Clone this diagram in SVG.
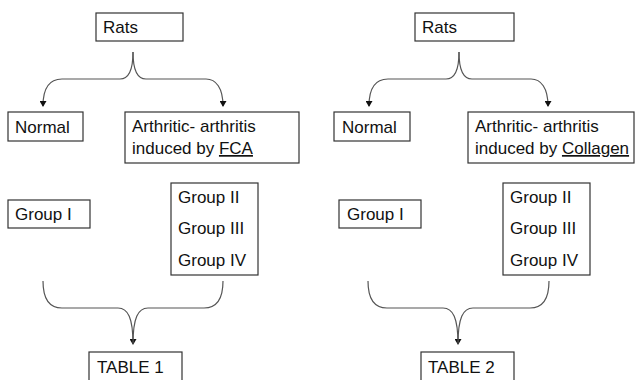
<svg xmlns="http://www.w3.org/2000/svg" width="635" height="380" viewBox="0 0 635 380">
<defs>
<style>
.box{fill:#fff;stroke:#333;stroke-width:1.2}
.t{font-family:"Liberation Sans",Arial,sans-serif;font-size:17px;fill:#111}
.c{fill:none;stroke:#555;stroke-width:1.2}
.u{text-decoration:underline}
</style>
<marker id="ah" markerWidth="6" markerHeight="7" refX="5" refY="3.5" orient="auto" markerUnits="userSpaceOnUse">
<path d="M0,0 L6,3.5 L0,7 Z" fill="#111"/>
</marker>
</defs>
<rect width="635" height="380" fill="#fff"/>
<g id="connectors">
<path class="c" d="M133,52 C133,70 128,79 120,79 L62,79 C50,79 43,88 43,106" marker-end="url(#ah)"/>
<path class="c" d="M133,52 C133,70 138,79 146,79 L206,79 C216,79 223,88 223,106" marker-end="url(#ah)"/>
<path class="c" d="M43,281 C43,300 50,308 62,308 L118,308 C128,308 133,318 133,344" marker-end="url(#ah)"/>
<path class="c" d="M223,281 C223,300 216,308 204,308 L148,308 C138,308 133,318 133,344"/>
<path class="c" d="M459,52 C459,70 454,79 446,79 L388,79 C376,79 369,88 369,106" marker-end="url(#ah)"/>
<path class="c" d="M459,52 C459,70 464,79 472,79 L531,79 C541,79 548,88 548,106" marker-end="url(#ah)"/>
<path class="c" d="M368,281 C368,300 375,308 387,308 L443,308 C453,308 458,318 458,344" marker-end="url(#ah)"/>
<path class="c" d="M549,281 C549,300 542,308 530,308 L473,308 C463,308 458,318 458,344"/>
</g>
<g id="rats1"><rect class="box" x="96" y="13" width="87" height="28"/><text class="t" x="103" y="33">Rats</text></g>
<g id="normal1"><rect class="box" x="8" y="112" width="75" height="29"/><text class="t" x="15" y="133">Normal</text></g>
<g id="arthritic1"><rect class="box" x="125" y="112" width="174" height="51"/><text class="t" x="132" y="132">Arthritic- arthritis</text><text class="t" x="132" y="154">induced by <tspan class="u">FCA</tspan></text></g>
<g id="group1a"><rect class="box" x="8" y="200" width="82" height="28"/><text class="t" x="15" y="220">Group I</text></g>
<g id="groups1"><rect class="box" x="171" y="183" width="87" height="92"/><text class="t" x="178" y="203">Group II</text><text class="t" x="178" y="234">Group III</text><text class="t" x="178" y="266">Group IV</text></g>
<g id="table1"><rect class="box" x="89" y="352" width="93" height="40"/><text class="t" x="97" y="373">TABLE 1</text></g>
<g id="rats2"><rect class="box" x="415" y="13" width="99" height="28"/><text class="t" x="422" y="33">Rats</text></g>
<g id="normal2"><rect class="box" x="334" y="112" width="76" height="29"/><text class="t" x="342" y="133">Normal</text></g>
<g id="arthritic2"><rect class="box" x="468" y="112" width="166" height="51"/><text class="t" x="475" y="132">Arthritic- arthritis</text><text class="t" x="475" y="154">induced by <tspan class="u">Collagen</tspan></text></g>
<g id="group2a"><rect class="box" x="339" y="200" width="82" height="28"/><text class="t" x="347" y="220">Group I</text></g>
<g id="groups2"><rect class="box" x="503" y="183" width="87" height="92"/><text class="t" x="510" y="203">Group II</text><text class="t" x="510" y="234">Group III</text><text class="t" x="510" y="266">Group IV</text></g>
<g id="table2"><rect class="box" x="421" y="352" width="93" height="40"/><text class="t" x="428" y="373">TABLE 2</text></g>
</svg>
